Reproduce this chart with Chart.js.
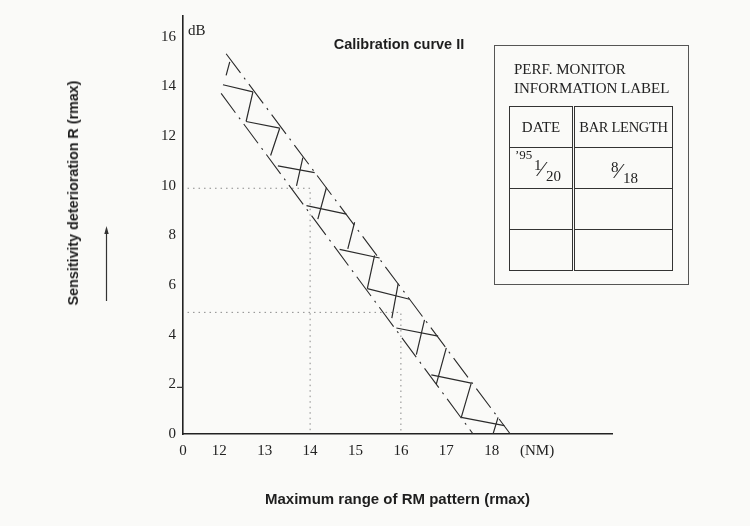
<!DOCTYPE html>
<html>
<head>
<meta charset="utf-8">
<script src="https://cdn.jsdelivr.net/npm/chart.js@4.4.1/dist/chart.umd.min.js"></script>
<style>
  body { margin: 0; background: #fafaf8; }
  #wrap { position: relative; width: 750px; height: 526px; overflow: hidden; }
  #chart { position: absolute; left: 0; top: 0; }
  .sans { position: absolute; font-family: "Liberation Sans", Arial, sans-serif; font-weight: bold; color: #1e1e1e; white-space: nowrap; }
  .serif { font-family: "Liberation Serif", "Times New Roman", serif; color: #222; }
  #title { left: 399px; top: 44px; transform: translate(-50%, -50%); font-size: 14.5px; }
  #ytitle { left: 73px; top: 193px; transform: translate(-50%, -50%) rotate(-90deg); font-size: 14.3px; }
  #db { position: absolute; left: 188px; top: 22px; font-size: 15px; }
  #lbl { position: absolute; left: 494px; top: 45px; width: 195px; height: 240px; box-sizing: border-box; border: 1px solid #555; }
  #lbl .hd { position: absolute; left: 19px; top: 14px; font-size: 15px; line-height: 18.5px; white-space: nowrap; }
  #lbl table { position: absolute; left: 14px; top: 60px; width: 163px; height: 163px; border-collapse: collapse; table-layout: fixed; }
  #lbl td { position: relative; border: 1.5px solid #333; padding: 0; height: 40px; font-size: 15px; text-align: center; }
  #lbl td.c2 { border-left: 3px double #333; }
  .abs { position: absolute; white-space: nowrap; }
</style>
</head>
<body>
<div id="wrap">
  <canvas id="chart" width="750" height="526"></canvas>
  <div class="sans" id="title">Calibration curve II</div>
  <div class="sans" id="ytitle">Sensitivity deterioration R (rmax)</div>
  <div class="serif" id="db">dB</div>
  <div id="lbl" class="serif">
    <div class="hd">PERF. MONITOR<br>INFORMATION LABEL</div>
    <table>
      <colgroup><col style="width:64px"><col style="width:99px"></colgroup>
      <tr><td>DATE</td><td class="c2" style="font-size:14.5px;letter-spacing:-0.3px">BAR LENGTH</td></tr>
      <tr>
        <td>
          <span class="abs" style="left:5px;top:-1px;font-size:13px">&#8217;95</span>
          <span class="abs" style="left:24px;top:9px;font-size:15px">1</span>
          <span class="abs" style="left:30px;top:8px;font-size:22px;font-weight:lighter">&#8260;</span>
          <span class="abs" style="left:36px;top:20px;font-size:15px">20</span>
        </td>
        <td class="c2">
          <span class="abs" style="left:36px;top:11px;font-size:15px">8</span>
          <span class="abs" style="left:42px;top:10px;font-size:22px;font-weight:lighter">&#8260;</span>
          <span class="abs" style="left:48px;top:22px;font-size:15px">18</span>
        </td>
      </tr>
      <tr><td></td><td class="c2"></td></tr>
      <tr><td></td><td class="c2"></td></tr>
    </table>
  </div>
</div>
<script>
// Calibration curve II
const xTickValues = [11.2, 12, 13, 14, 15, 16, 17, 18, 19];
const xTickLabels = ['0', '12', '13', '14', '15', '16', '17', '18', '(NM)'];
const yTickValues = [0, 2, 4, 6, 8, 10, 12, 14, 16];

// band edges (dash-dot), x in NM, y in dB
const upperEdge = [[12.15, 15.32], [18.41, 0]];
const lowerEdge = [[12.04, 13.72], [17.59, 0]];

// hatch inside the band: shallow strokes and steep strokes [x1, y1, x2, y2]
const shallowHatch = [
  [12.08, 14.07, 12.74, 13.78],
  [12.59, 12.59, 13.33, 12.32],
  [13.29, 10.80, 14.10, 10.53],
  [13.92, 9.20, 14.80, 8.86],
  [14.65, 7.44, 15.53, 7.09],
  [15.26, 5.86, 16.19, 5.43],
  [15.90, 4.27, 16.82, 3.94],
  [16.67, 2.38, 17.55, 2.05],
  [17.33, 0.67, 18.28, 0.34]
];
const steepHatch = [
  [12.23, 14.99, 12.15, 14.45],
  [12.74, 13.78, 12.59, 12.59],
  [13.33, 12.32, 13.13, 11.22],
  [13.84, 11.13, 13.70, 10.00],
  [14.36, 9.93, 14.17, 8.66],
  [14.98, 8.53, 14.83, 7.46],
  [15.42, 7.20, 15.26, 5.86],
  [15.94, 6.06, 15.80, 4.67],
  [16.52, 4.60, 16.34, 3.20],
  [17.00, 3.47, 16.78, 2.01],
  [17.55, 2.05, 17.33, 0.67],
  [18.14, 0.67, 18.03, 0.00]
];

// dotted read-off guides
const guideA = [[11.3, 9.9], [14, 9.9], [14, 0]];
const guideB = [[11.3, 4.9], [16, 4.9], [16, 0]];

const pts = arr => arr.map(p => ({x: p[0], y: p[1]}));
const segs = arr => arr.flatMap(s => [{x: s[0], y: s[1]}, {x: s[2], y: s[3]}, {x: s[2], y: null}]);

const ink = '#2b2b2b';
const lineBase = { pointRadius: 0, fill: false, tension: 0, spanGaps: false };

// small arrow beside the y title, and the little tick at 2 dB
const marksPlugin = {
  id: 'marks',
  afterDraw(chart) {
    const c = chart.ctx;
    const y2 = chart.scales.y.getPixelForValue(2);
    c.save();
    c.strokeStyle = '#333';
    c.fillStyle = '#333';
    c.lineWidth = 1.2;
    c.beginPath(); c.moveTo(106.5, 301); c.lineTo(106.5, 231); c.stroke();
    c.beginPath(); c.moveTo(106.5, 226); c.lineTo(104.3, 234); c.lineTo(108.7, 234); c.closePath(); c.fill();
    c.beginPath(); c.moveTo(177, y2 + 3); c.lineTo(183, y2 + 3); c.stroke();
    c.restore();
  }
};

new Chart(document.getElementById('chart'), {
  type: 'line',
  data: {
    datasets: [
      { ...lineBase, data: pts(upperEdge), borderColor: ink, borderWidth: 1.1, borderDash: [24, 6, 2, 6] },
      { ...lineBase, data: pts(lowerEdge), borderColor: ink, borderWidth: 1.1, borderDash: [24, 6, 2, 6] },
      { ...lineBase, data: segs(shallowHatch), borderColor: ink, borderWidth: 1.2 },
      { ...lineBase, data: segs(steepHatch), borderColor: ink, borderWidth: 1.2 },
      { ...lineBase, data: pts(guideA), borderColor: '#8a8a8a', borderWidth: 1, borderDash: [1.5, 4] },
      { ...lineBase, data: pts(guideB), borderColor: '#8a8a8a', borderWidth: 1, borderDash: [1.5, 4] }
    ]
  },
  options: {
    responsive: false,
    animation: false,
    layout: { padding: { top: 12, right: 138, left: 0, bottom: 0 } },
    plugins: { legend: { display: false }, tooltip: { enabled: false }, title: { display: false } },
    scales: {
      x: {
        type: 'linear', min: 11.2, max: 20.65,
        afterBuildTicks: s => { s.ticks = xTickValues.map(v => ({ value: v })); },
        afterFit: s => { s.height = 92; },
        grid: { display: false, drawTicks: false },
        border: { color: '#222', width: 1.6 },
        ticks: {
          autoSkip: false, maxRotation: 0, padding: 8, color: '#222',
          font: { family: '"Liberation Serif", serif', size: 15 },
          callback: (v, i) => xTickLabels[i]
        },
        title: {
          display: true, text: 'Maximum range of RM pattern (rmax)', color: '#1e1e1e',
          font: { family: '"Liberation Sans", Arial, sans-serif', weight: 'bold', size: 15 },
          padding: { top: 0, bottom: 17 }
        }
      },
      y: {
        type: 'linear', min: 0, max: 16.84,
        afterBuildTicks: s => { s.ticks = yTickValues.map(v => ({ value: v })); },
        afterFit: s => { s.width = 183; },
        grid: { display: false, drawTicks: false },
        border: { color: '#222', width: 1.6 },
        ticks: {
          autoSkip: false, padding: 7, color: '#222',
          font: { family: '"Liberation Serif", serif', size: 15 }
        }
      }
    }
  },
  plugins: [marksPlugin]
});
</script>
</body>
</html>
